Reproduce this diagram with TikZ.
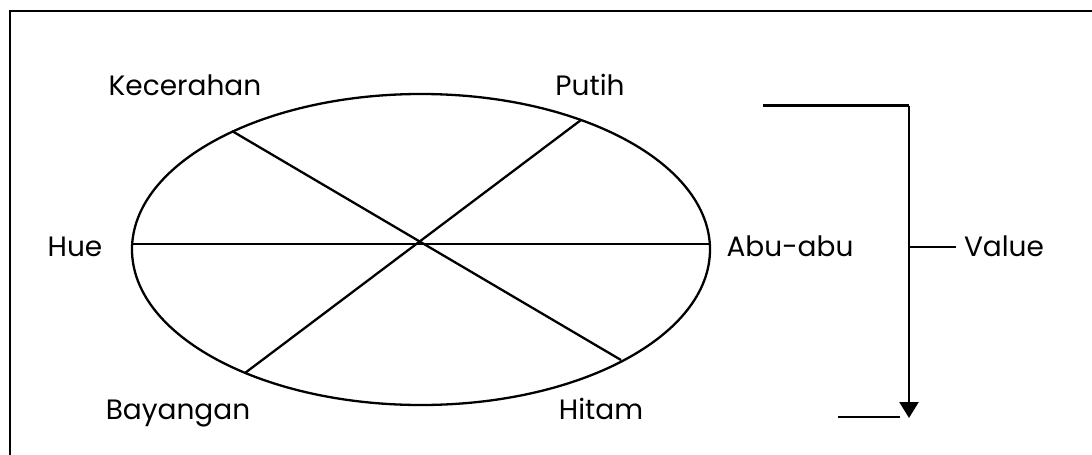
\documentclass[tikz,border=0pt]{standalone}
\usepackage{fontspec}
\setmainfont{Poppins}
\usetikzlibrary{arrows.meta}
\begin{document}
\begin{tikzpicture}[x=1pt,y=-1pt,
  lbl/.style={anchor=base,inner sep=0pt,font=\fontsize{28}{32}\selectfont},
  ln/.style={line width=2.3pt,black},
  frame/.style={line width=2.6pt,black}]
\useasboundingbox (0,0) rectangle (1092,455);
\begin{scope}
\clip (0,0) rectangle (1092,455);
\draw[frame] (10,470) -- (10,11) -- (1110,11);
\end{scope}
% ellipse
\draw[ln] (421,249.5) ellipse [x radius=289, y radius=155.5];
\coordinate (c) at (419,243);
\coordinate (hL) at (132,244);
\coordinate (hR) at (710,244);
\coordinate (kE) at (232,131);
\coordinate (hiE) at (621,360);
\coordinate (pE) at (581,120);
\coordinate (bE) at (245,373);
\draw[ln] (hL) -- (hR);
\draw[ln] (kE) -- (hiE);
\draw[ln] (pE) -- (bE);
% labels
\node[lbl] (kec) at (185,95) {Kecerahan};
\node[lbl] (put) at (590,95) {Putih};
\node[lbl] (hue) at (75,256) {Hue};
\node[lbl] (abu) at (790,256) {Abu-abu};
\node[lbl] (bay) at (178,419) {Bayangan};
\node[lbl] (hit) at (601,419) {Hitam};
\node[lbl] (val) at (1004,256) {Value};
% bracket
\coordinate (bt0) at (763,105.5);
\coordinate (bt1) at (909,105.5);
\coordinate (bb) at (909,418);
\coordinate (bl0) at (838,417);
\coordinate (bl1) at (900,417);
\coordinate (vt0) at (909,247);
\draw[ln] (bt0) -- (bt1);
\draw[ln,-{Triangle[width=19pt,length=16pt]}] (bt1) -- (bb);
\draw[ln] (bl0) -- (bl1);
\draw[ln] (vt0) -- ([xshift=-8pt]val.west |- vt0);
\end{tikzpicture}
\end{document}
